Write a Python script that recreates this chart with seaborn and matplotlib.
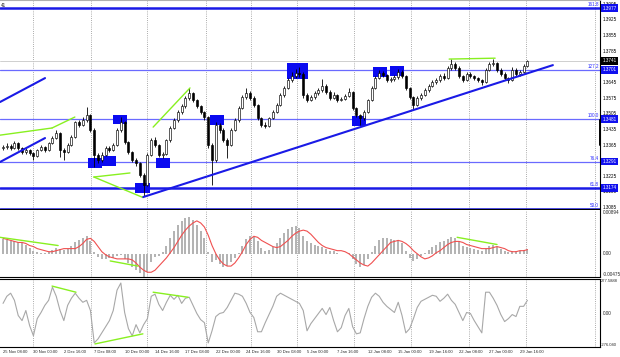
"""GBPUSD H4 chart in MT4 style: candles with fibo levels, MACD and CCI panels."""

import matplotlib
matplotlib.use("Agg")
import matplotlib.pyplot as plt
import matplotlib.transforms as mtransforms
from matplotlib.patches import Rectangle
import numpy as np
import pandas as pd
import seaborn as sns

# Candles (points above 1.3000), one candle per 8 hours
opens = [350, 356, 360, 351, 374, 351, 333, 342, 329, 316,
         342, 356, 342, 374, 396, 418, 342, 333, 365, 401,
         468, 454, 477, 499, 432, 320, 298, 320, 351, 342,
         365, 432, 468, 378, 333, 298, 284, 231, 186, 320,
         387, 365, 320, 325, 387, 441, 477, 512, 539, 575,
         597, 566, 539, 512, 490, 365, 298, 454, 432, 387,
         365, 432, 477, 530, 579, 597, 575, 544, 485, 454,
         450, 485, 512, 544, 588, 620, 655, 673, 687, 682,
         588, 566, 579, 597, 611, 629, 602, 575, 588, 566,
         570, 584, 602, 530, 499, 485, 512, 566, 620, 664,
         687, 678, 655, 660, 669, 691, 673, 620, 579, 544,
         575, 588, 611, 629, 646, 655, 673, 664, 709, 727,
         709, 673, 655, 682, 673, 664, 655, 646, 700, 727,
         731, 700, 682, 664, 655, 700, 682, 691, 718]
closes = [356, 360, 351, 374, 351, 333, 342, 329, 316, 342,
          356, 342, 374, 396, 418, 342, 333, 365, 401, 468,
          454, 477, 499, 432, 320, 298, 320, 351, 342, 365,
          432, 468, 378, 333, 298, 284, 231, 186, 320, 387,
          365, 320, 325, 387, 441, 477, 512, 539, 575, 597,
          566, 539, 512, 490, 365, 298, 454, 432, 387, 365,
          432, 477, 530, 579, 597, 575, 544, 485, 454, 450,
          485, 512, 544, 588, 620, 655, 673, 687, 682, 588,
          566, 579, 597, 611, 629, 602, 575, 588, 566, 570,
          584, 602, 530, 499, 485, 512, 566, 620, 664, 687,
          678, 655, 660, 669, 691, 673, 620, 579, 544, 575,
          588, 611, 629, 646, 655, 673, 664, 709, 727, 709,
          673, 655, 682, 673, 664, 655, 646, 700, 727, 731,
          700, 682, 664, 655, 700, 682, 691, 718, 741]
highs = [366, 372, 368, 382, 378, 356, 350, 347, 335, 348,
         364, 361, 380, 404, 432, 424, 350, 372, 410, 474,
         478, 488, 535, 505, 440, 330, 332, 360, 362, 372,
         440, 490, 472, 385, 340, 305, 290, 240, 330, 396,
         401, 370, 335, 392, 448, 485, 520, 548, 584, 620,
         604, 572, 546, 518, 495, 372, 470, 462, 440, 395,
         440, 484, 538, 588, 620, 605, 582, 550, 492, 466,
         492, 520, 552, 596, 628, 664, 690, 705, 713, 690,
         596, 590, 606, 620, 660, 636, 610, 600, 595, 580,
         592, 620, 608, 536, 505, 520, 572, 628, 672, 700,
         696, 684, 668, 680, 705, 700, 680, 626, 585, 582,
         596, 618, 636, 655, 664, 682, 686, 716, 749, 735,
         716, 680, 690, 692, 680, 670, 662, 708, 736, 749,
         738, 708, 690, 670, 712, 710, 698, 725, 746]
lows = [342, 348, 344, 346, 343, 326, 325, 320, 298, 310,
        338, 335, 338, 368, 390, 310, 298, 328, 360, 396,
        446, 450, 470, 425, 266, 285, 290, 314, 335, 336,
        360, 425, 370, 326, 290, 270, 220, 137, 180, 315,
        356, 310, 305, 320, 380, 435, 470, 505, 532, 568,
        558, 530, 505, 478, 350, 186, 290, 420, 378, 307,
        360, 426, 470, 525, 570, 565, 536, 478, 445, 440,
        444, 480, 506, 538, 580, 614, 648, 665, 670, 575,
        555, 560, 572, 590, 604, 594, 566, 570, 558, 560,
        564, 578, 522, 490, 454, 478, 506, 560, 614, 658,
        668, 646, 648, 652, 662, 665, 612, 570, 521, 538,
        568, 582, 604, 622, 638, 648, 656, 660, 702, 700,
        664, 646, 650, 664, 656, 646, 635, 640, 694, 720,
        692, 674, 655, 640, 650, 674, 675, 686, 712]

# MACD main (histogram) and signal, in 1e-5
macd_main = [294, 273, 252, 252, 231, 210, 189, 126, 63, 42,
             21, 21, 42, 84, 126, 105, 84, 105, 168, 231,
             273, 315, 357, 252, 42, -63, -105, -105, -84, -84,
             -42, -21, -105, -189, -273, -336, -399, -483, -378, -168,
             -63, -42, 42, 168, 315, 462, 588, 672, 735, 756,
             693, 588, 462, 315, 42, -168, -126, -210, -273, -252,
             -168, -84, 21, 168, 294, 357, 336, 252, 126, 63,
             84, 147, 210, 315, 420, 504, 546, 567, 525, 357,
             252, 210, 189, 168, 147, 105, 63, 63, 21, 0,
             0, 21, -105, -210, -273, -231, -105, 42, 168, 273,
             315, 315, 294, 273, 273, 210, 63, -84, -147, -105,
             -42, 21, 84, 147, 189, 231, 252, 294, 336, 315,
             231, 168, 147, 126, 105, 84, 63, 105, 168, 189,
             147, 105, 63, 42, 63, 63, 63, 84, 105]
macd_signal = [315, 294, 273, 252, 231, 231, 210, 168, 147, 105,
               84, 63, 42, 42, 63, 84, 105, 105, 105, 105,
               147, 210, 294, 315, 252, 147, 42, -21, -63, -84,
               -105, -105, -105, -105, -126, -189, -273, -336, -378, -378,
               -336, -252, -168, -84, 21, 126, 252, 378, 483, 567,
               630, 672, 630, 546, 378, 168, 0, -126, -210, -252,
               -252, -189, -84, 42, 189, 294, 357, 336, 273, 231,
               189, 147, 126, 147, 210, 273, 357, 420, 462, 483,
               462, 399, 315, 231, 168, 126, 105, 84, 63, 63,
               42, 0, -63, -126, -189, -231, -252, -189, -105, -21,
               63, 147, 231, 252, 273, 252, 210, 147, 63, 0,
               -63, -105, -84, -42, 21, 63, 126, 189, 231, 252,
               252, 231, 189, 168, 147, 126, 105, 105, 105, 126,
               147, 126, 105, 63, 42, 42, 63, 63, 84]

# CCI
cci = [79, 137, 162, 104, -20, -61, 21, -102, -185, -45,
       5, 63, 104, 211, 137, 21, -61, 63, 121, 162,
       121, 88, 104, 21, -243, -210, -161, -111, -61, 21,
       187, 245, 5, -127, -185, -94, -161, -94, -45, 137,
       154, 71, 21, 88, 145, 112, 145, 79, 121, 129,
       63, -3, -53, -78, -243, -144, -28, -3, 5, 46,
       104, 162, 154, 137, 79, 5, -36, -152, -152, -78,
       -12, 55, 137, 162, 145, 129, 112, 96, 79, 21,
       -144, -86, -45, -3, 38, -12, 46, -61, -152, -119,
       -20, 38, -111, -169, -161, -45, 55, 129, 162, 137,
       88, 55, 30, 5, 88, -20, -161, -127, -45, 46,
       96, 112, 129, 145, 137, 96, 121, 154, 104, 71,
       5, -61, 5, -3, -61, -111, -161, 170, 170, 121,
       63, -12, -69, -45, -12, -28, 55, 55, 104]

dates = ["25 Nov 08:00", "30 Nov 00:00", "2 Dec 16:00", "7 Dec 08:00",
         "10 Dec 00:00", "14 Dec 16:00", "17 Dec 08:00", "22 Dec 00:00",
         "24 Dec 16:00", "30 Dec 08:00", "5 Jan 00:00", "7 Jan 16:00",
         "12 Jan 08:00", "15 Jan 00:00", "19 Jan 16:00", "22 Jan 08:00",
         "27 Jan 00:00", "29 Jan 16:00"]
date_bars = list(range(0, 139, 8))
week_bars = [7.9, 23.2, 37.9, 53.4, 65.3, 77.4, 92.4, 107.4, 122.6, 137.6, 155.8]

# Fibonacci grid
fib_names = ["161.8", "127.2", "100.0", "76.4", "61.8", "50.0"]
fib_prices = [1.3977, 1.3701, 1.3481, 1.3291, 1.3174, 1.3080]
fib_labels = ["1.3977", "1.3701", "1.3481", "1.3291", "1.3174", "1.3080"]

# price scale labels (the ones under the fibo boxes are hidden)
price_ticks = [1.3085, 1.3155, 1.3225, 1.3365, 1.3435, 1.3505,
               1.3575, 1.3645, 1.3785, 1.3855, 1.3925, 1.3995]
last_price = 1.3741

# Highlight boxes: centre bar, centre price
box_bars = [30.8, 24.3, 27.8, 36.7, 42.2, 56.2, 77.5, 93.8, 99.3, 103.7]
box_prices = [1.3479, 1.3284, 1.3293, 1.3173, 1.3284, 1.3477, 1.3696, 1.3472, 1.3693, 1.3696]

# Trend / divergence lines: (bar, value) pairs
blue_lines = [((36.8, 1.3132), (144.7, 1.3722)),
              ((-0.8, 1.3557), (11.05, 1.3664)),
              ((-0.8, 1.3289), (11.05, 1.3396))]
green_price = [((-0.8, 1.3409), (12.9, 1.3441)), ((12.9, 1.3441), (18.9, 1.3490)),
               ((23.9, 1.3222), (33.4, 1.3240)), ((23.9, 1.3222), (36.6, 1.3132)),
               ((39.5, 1.3445), (49.2, 1.3620)), ((117.4, 1.3749), (129.5, 1.3753))]
green_macd = [((-0.8, 336), (14.5, 168)), ((28.2, -147), (35.5, -252)),
              ((119.5, 336), (130.0, 189))]
green_cci = [((12.9, 220), (19.2, 170)), ((24.2, -251), (36.8, -169)),
             ((39.5, 170), (48.7, 129))]

W, H = 620, 357
FS = 3.3
BLUE = "#2a2aff"
LINE_BLUE = "#1a1ae6"
GREEN = "#88f020"


def rect(x0, y0, x1, y1):
    return [x0 / W, 1 - y1 / H, (x1 - x0) / W, (y1 - y0) / H]


sns.set_theme(style="white")
plt.rcParams["font.family"] = ["Liberation Sans", "DejaVu Sans"]

df = pd.DataFrame({"open": opens, "high": highs, "low": lows, "close": closes})
df[["open", "high", "low", "close"]] = 1.3 + df[["open", "high", "low", "close"]] / 10000
df["bar"] = np.arange(len(df))
df["macd"] = np.array(macd_main) / 1e5
df["signal"] = np.array(macd_signal) / 1e5
df["cci"] = cci

fig = plt.figure(figsize=(W / 100, H / 100), dpi=100)
ax = fig.add_axes(rect(0, 0, 600, 209))
ax_m = fig.add_axes(rect(0, 210, 600, 277))
ax_c = fig.add_axes(rect(0, 279, 600, 347))

xlim = (-0.8, 157.1)
for a in (ax, ax_m, ax_c):
    a.set_xlim(*xlim)
    a.set_xticks([])
    a.set_yticks([])
    a.set_facecolor("white")
    for s in a.spines.values():
        s.set_color("black")
        s.set_linewidth(0.8)
    a.spines["left"].set_visible(False)
    for wb in week_bars:
        a.axvline(wb, color="#909090", lw=0.6, ls=(0, (1, 1.6)), zorder=1)

# ---------- price panel ----------
ax.set_ylim(1.3079, 1.4013)
ax.spines["top"].set_color("#b0b0b0")
trans_r = mtransforms.blended_transform_factory(ax.transAxes, ax.transData)

for p in price_ticks:
    ax.text(1.004, p, f"{p:.4f}", transform=trans_r, ha="left", va="center",
            fontsize=FS, color="black", clip_on=False)

ax.axhline(last_price, color="#c8c8c8", lw=0.6, zorder=1)

for name, p, lab in zip(fib_names, fib_prices, fib_labels):
    thick = name in ("161.8", "61.8", "50.0")
    ax.axhline(p, color=LINE_BLUE if thick else "#6a6aff", lw=1.8 if thick else 0.9, zorder=2)
    ax.text(156.8, p + 0.0003, name, ha="right", va="bottom", fontsize=FS, color=BLUE, zorder=6)
    if name != "50.0":
        ax.text(1.004, p, lab, transform=trans_r, ha="left", va="center", fontsize=FS,
                color="white", clip_on=False, zorder=8,
                bbox=dict(boxstyle="square,pad=0.3", fc="#1010ee", ec="none"))
ax.text(1.004, last_price, f"{last_price:.4f}", transform=trans_r, ha="left", va="center",
        fontsize=FS, color="white", clip_on=False, zorder=8,
        bbox=dict(boxstyle="square,pad=0.3", fc="black", ec="none"))
ax.plot([1.0, 1.0], [1.3365, 1.3477], transform=trans_r, color="black", lw=1.4, clip_on=False)

for i, (bx, by) in enumerate(zip(box_bars, box_prices)):
    bw, bh = (5.5, 0.0072) if i == 6 else (3.7, 0.0044)
    ax.add_patch(Rectangle((bx - bw / 2, by - bh / 2), bw, bh, color="#0a0af0", lw=0, zorder=2.5))

for (x0, y0), (x1, y1) in blue_lines:
    ax.plot([x0, x1], [y0, y1], color=LINE_BLUE, lw=1.5, zorder=5)
for (x0, y0), (x1, y1) in green_price:
    ax.plot([x0, x1], [y0, y1], color=GREEN, lw=1.0, zorder=5)

# candles
up = df["close"] >= df["open"]
ax.vlines(df["bar"], df["low"], df["high"], color="black", lw=0.6, zorder=3)
body = (df["close"] - df["open"]).abs().clip(lower=0.00004)
bottom = df[["open", "close"]].min(axis=1)
ax.bar(df["bar"][up], body[up], bottom=bottom[up], width=0.5, color="white",
       edgecolor="black", linewidth=0.45, zorder=4)
ax.bar(df["bar"][~up], body[~up], bottom=bottom[~up], width=0.5, color="black",
       edgecolor="black", linewidth=0.45, zorder=4)

ax.text(0.002, 0.985, "41", transform=ax.transAxes, ha="left", va="top", fontsize=FS)

# ---------- MACD panel ----------
ax_m.set_ylim(-0.00475, 0.00894)
ax_m.spines["top"].set_visible(False)
ax_m.bar(df["bar"], df["macd"], width=0.55, color="#b4b4b4", edgecolor="none",
         linewidth=0, zorder=2)
sns.lineplot(data=df, x="bar", y="signal", ax=ax_m, color="#f05050", lw=0.8, zorder=3)
for (x0, y0), (x1, y1) in green_macd:
    ax_m.plot([x0, x1], [y0 / 1e5, y1 / 1e5], color=GREEN, lw=1.0, zorder=4)
ax_m.set_xlabel("")
ax_m.set_ylabel("")
ax_m.set_xticks([])
ax_m.set_yticks([])
trans_m = mtransforms.blended_transform_factory(ax_m.transAxes, ax_m.transData)
ax_m.text(1.004, 0.00894, "0.00894", transform=trans_m, ha="left", va="top", fontsize=FS, clip_on=False)
ax_m.text(1.004, 0.0, "0.00", transform=trans_m, ha="left", va="center", fontsize=FS, clip_on=False)
ax_m.text(1.004, -0.00475, "-0.00475", transform=trans_m, ha="left", va="bottom", fontsize=FS, clip_on=False)

# ---------- CCI panel ----------
ax_c.set_ylim(-276.04, 277.5888)
sns.lineplot(data=df, x="bar", y="cci", ax=ax_c, color="#a8a8a8", lw=0.8, zorder=3)
for (x0, y0), (x1, y1) in green_cci:
    ax_c.plot([x0, x1], [y0, y1], color=GREEN, lw=1.0, zorder=4)
ax_c.set_xlabel("")
ax_c.set_ylabel("")
ax_c.set_xticks([])
ax_c.set_yticks([])
trans_c = mtransforms.blended_transform_factory(ax_c.transAxes, ax_c.transData)
ax_c.text(1.002, 277.5888, "277.5888", transform=trans_c, ha="left", va="top", fontsize=3.0, clip_on=False)
ax_c.text(1.004, 0.0, "0.00", transform=trans_c, ha="left", va="center", fontsize=FS, clip_on=False)
ax_c.text(1.002, -276.04, "-276.040", transform=trans_c, ha="left", va="bottom", fontsize=3.0, clip_on=False)

trans_d = mtransforms.blended_transform_factory(ax_c.transData, ax_c.transAxes)
for b, d in zip(date_bars, dates):
    ax_c.text(b, -0.075, d, transform=trans_d, ha="left", va="center", fontsize=3.0, clip_on=False)

fig.savefig("out.png", dpi=100, facecolor="white")
